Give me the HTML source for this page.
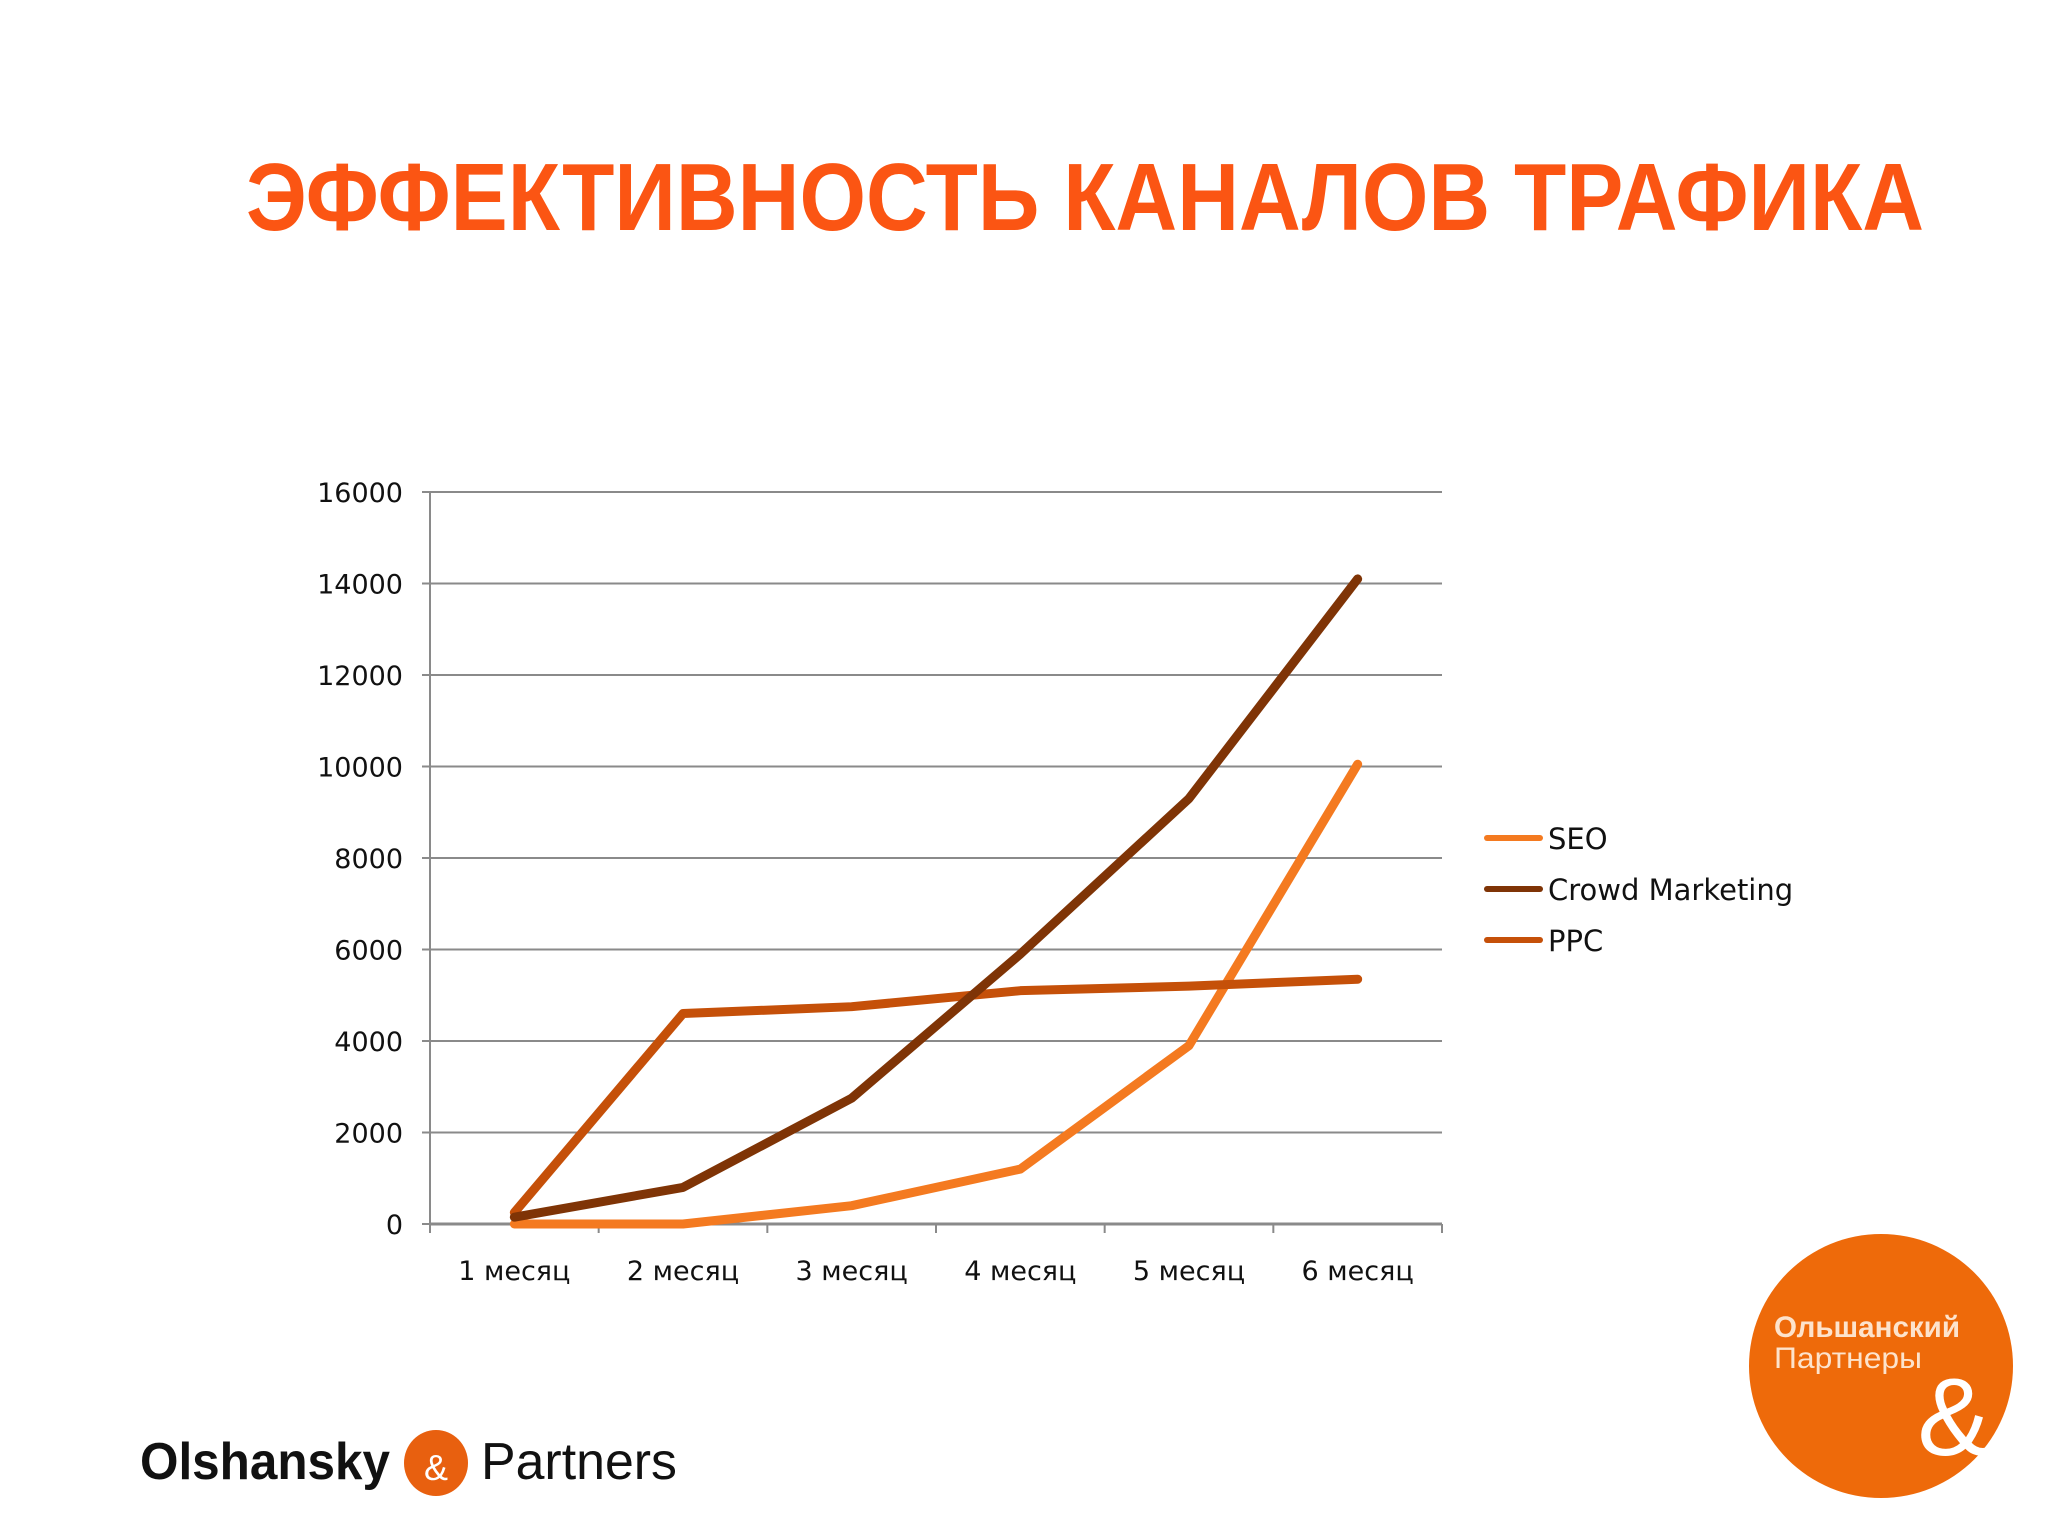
<!DOCTYPE html>
<html><head><meta charset="utf-8"><style>
html,body{margin:0;padding:0;background:#fff;}
svg{display:block;}
</style></head><body>
<svg id="chart" width="2048" height="1536" viewBox="0 0 2048 1536" xmlns="http://www.w3.org/2000/svg">
<rect width="2048" height="1536" fill="#fff"/>
<text x="1085" y="230" text-anchor="middle" textLength="1678" lengthAdjust="spacingAndGlyphs" font-family="'Liberation Sans','DejaVu Sans',sans-serif" font-weight="bold" font-size="96" fill="#fb5513">ЭФФЕКТИВНОСТЬ КАНАЛОВ ТРАФИКА</text>
<g id="grid"></g>
<g id="axes"></g>
<g id="series"></g>
<g id="legend"></g>
<g>
<text x="140" y="1479" font-family="'Liberation Sans',sans-serif" font-weight="bold" font-size="52" fill="#111" textLength="250" lengthAdjust="spacingAndGlyphs">Olshansky</text>
<ellipse cx="436" cy="1463" rx="32" ry="33" fill="#e8600f"/>
<text x="436" y="1480" text-anchor="middle" font-family="'Liberation Sans',sans-serif" font-size="36" fill="#fff">&amp;</text>
<text x="481" y="1479" font-family="'Liberation Sans',sans-serif" font-size="52" fill="#111" textLength="196" lengthAdjust="spacingAndGlyphs">Partners</text>
</g>
<g>
<circle cx="1881" cy="1366" r="132" fill="#ee6a0a"/>
<text x="1774" y="1337" font-family="'Liberation Sans',sans-serif" font-weight="bold" font-size="30" fill="#fde3cc" textLength="186" lengthAdjust="spacingAndGlyphs">Ольшанский</text>
<text x="1774" y="1368" font-family="'Liberation Sans',sans-serif" font-size="30" fill="#fde3cc" textLength="148" lengthAdjust="spacingAndGlyphs">Партнеры</text>
<text x="1954" y="1455" text-anchor="middle" font-family="'Liberation Sans',sans-serif" font-size="110" fill="#fff">&amp;</text>
</g>
</svg>
<script>
const categories = ["1 месяц","2 месяц","3 месяц","4 месяц","5 месяц","6 месяц"];
const seoValues = [0, 0, 400, 1200, 3900, 10050];
const crowdValues = [150, 800, 2750, 5900, 9300, 14100];
const ppcValues = [250, 4600, 4750, 5100, 5200, 5350];
const yTicks = [0, 2000, 4000, 6000, 8000, 10000, 12000, 14000, 16000];
const seriesNames = ["SEO", "Crowd Marketing", "PPC"];

const NS = "http://www.w3.org/2000/svg";
const L = 430, R = 1442, T = 492, B = 1224, YMAX = 16000;
const step = (R - L) / categories.length;
function xPos(i){ return L + step * (i + 0.5); }
function yPos(v){ return B - (v / YMAX) * (B - T); }
function mk(tag, attrs, parent){ const e = document.createElementNS(NS, tag); for (const k in attrs) e.setAttribute(k, attrs[k]); parent.appendChild(e); return e; }
const font = "'DejaVu Sans','Liberation Sans',sans-serif";
const grid = document.getElementById('grid'), axes = document.getElementById('axes'), ser = document.getElementById('series'), leg = document.getElementById('legend');

yTicks.forEach(v => {
  const ln = mk('line', {x1: L, x2: R, y1: yPos(v), y2: yPos(v), stroke: '#8a8a8a', 'stroke-width': 2}, grid);
  
  
  const tk = mk('line', {x1: L - 8, x2: L, y1: yPos(v), y2: yPos(v), stroke: '#8a8a8a', 'stroke-width': 2}, axes);
  
  
  const t = mk('text', {x: 403, y: yPos(v) + 10, 'text-anchor': 'end', 'font-family': font, 'font-size': 27, fill: '#111'}, axes);
  t.textContent = v;
  
  
});
const ya = mk('line', {x1: L, x2: L, y1: T, y2: B + 8, stroke: '#8a8a8a', 'stroke-width': 2}, axes);


const xa = mk('line', {x1: L, x2: R, y1: B, y2: B, stroke: '#8a8a8a', 'stroke-width': 3}, axes);


for (let i = 0; i <= categories.length; i++) {
  const tk = mk('line', {x1: L + step * i, x2: L + step * i, y1: B, y2: B + 9, stroke: '#8a8a8a', 'stroke-width': 2}, axes);
  
  
}
categories.forEach((c, i) => {
  const t = mk('text', {x: xPos(i), y: 1280, 'text-anchor': 'middle', 'font-family': font, 'font-size': 27, fill: '#111'}, axes);
  t.textContent = c;
  
  
});

const allSeries = [seoValues, crowdValues, ppcValues];
const colors = ['#f47a20', '#7f3406', '#c55009'];
const drawOrder = [0, 2, 1];
drawOrder.forEach(s => {
  const pts = allSeries[s].map((v, i) => xPos(i) + ',' + yPos(v)).join(' ');
  const pl = mk('polyline', {points: pts, fill: 'none', stroke: colors[s], 'stroke-width': 9, 'stroke-linejoin': 'round', 'stroke-linecap': 'round'}, ser);
  
  
});

const legY = [838, 889, 940];
seriesNames.forEach((n, s) => {
  const ln = mk('line', {x1: 1487, x2: 1540, y1: legY[s], y2: legY[s], stroke: colors[s], 'stroke-width': 6, 'stroke-linecap': 'round'}, leg);
  
  
  const t = mk('text', {x: 1548, y: legY[s] + 11, 'font-family': font, 'font-size': 29, fill: '#111'}, leg);
  t.textContent = n;
  
  
});
</script>
</body></html>
